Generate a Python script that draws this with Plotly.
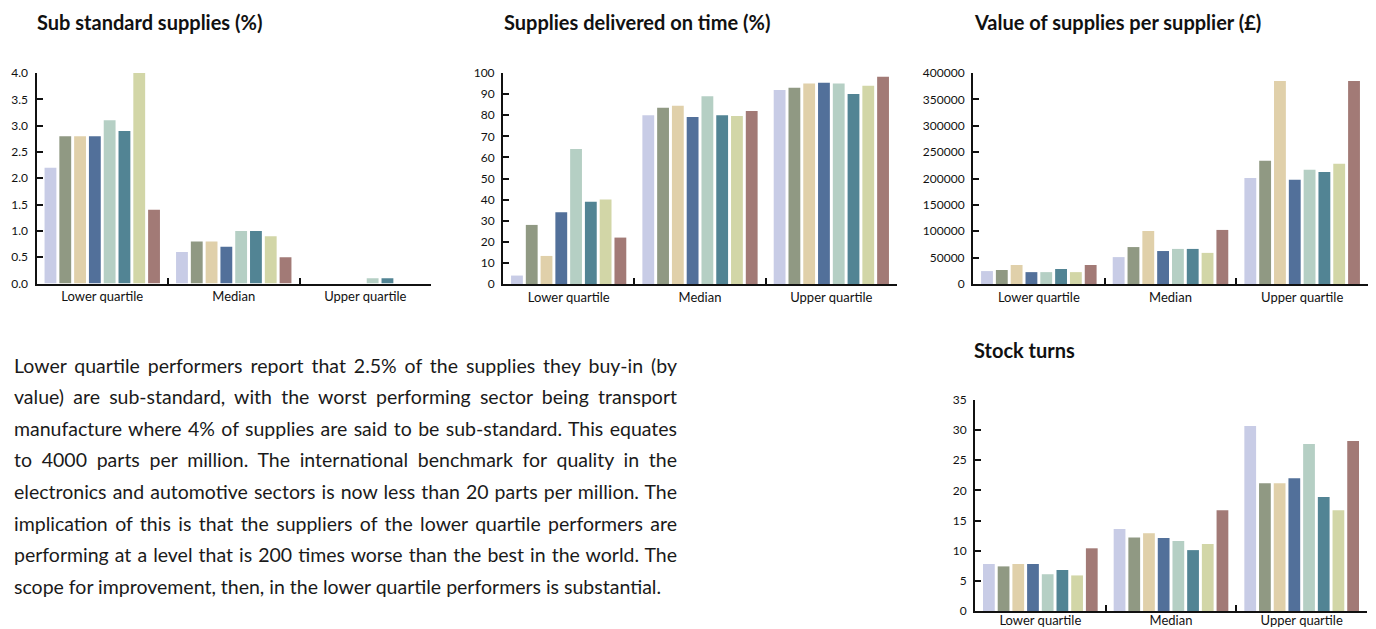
import json
import plotly.graph_objects as go

W, H = 1376, 629

categories = ["Lower quartile", "Median", "Upper quartile"]
sector_names = ["Sector 1", "Sector 2", "Sector 3", "Sector 4",
                "Sector 5", "Sector 6", "Sector 7", "Sector 8"]
sector_colors = ["#C8CCE6", "#909983", "#E0D0AA", "#52709A",
                 "#B5CFC4", "#528494", "#D2D6A7", "#A27A76"]

# Sub standard supplies (%), one list per quartile, one value per sector
sub_std_lower = [2.2, 2.8, 2.8, 2.8, 3.1, 2.9, 4.0, 1.4]
sub_std_median = [0.6, 0.8, 0.8, 0.7, 1.0, 1.0, 0.9, 0.5]
sub_std_upper = [0, 0, 0, 0, 0.1, 0.1, 0, 0]

# Supplies delivered on time (%)
on_time_lower = [4, 28, 13.3, 34, 64, 39, 40, 22]
on_time_median = [80, 83.5, 84.5, 79.2, 89, 80, 79.6, 82]
on_time_upper = [92, 93, 95, 95.4, 95, 90, 94, 98.2]

# Value of supplies per supplier (GBP)
value_lower = [24500, 26500, 36000, 22500, 22500, 28500, 22500, 36000]
value_median = [51000, 70000, 100500, 62500, 66500, 66500, 59000, 102500]
value_upper = [201000, 233500, 385000, 197500, 216500, 212500, 228000, 385000]

# Stock turns
stock_lower = [7.8, 7.4, 7.8, 7.8, 6.1, 6.8, 5.9, 10.4]
stock_median = [13.6, 12.2, 12.9, 12.1, 11.6, 10.1, 11.1, 16.7]
stock_upper = [30.7, 21.2, 21.2, 22.0, 27.7, 18.9, 16.7, 28.2]

paragraph_lines = [
    "Lower quartile performers report that 2.5% of the supplies they buy-in (by",
    "value) are sub-standard, with the worst performing sector being transport",
    "manufacture where 4% of supplies are said to be sub-standard. This equates",
    "to 4000 parts per million. The international benchmark for quality in the",
    "electronics and automotive sectors is now less than 20 parts per million. The",
    "implication of this is that the suppliers of the lower quartile performers are",
    "performing at a level that is 200 times worse than the best in the world. The",
    "scope for improvement, then, in the lower quartile performers is substantial.",
]

FONT = "Lato"

# (title, rows, y max, y step, tick format, x px [left, right], y px [zero, top],
#  title px, category label standoff)
panels = [
    ("Sub standard supplies (%)", (sub_std_lower, sub_std_median, sub_std_upper),
     4, 0.5, ".1f", (36.5, 431), (283.5, 73), (35, 22), 0),
    ("Supplies delivered on time (%)", (on_time_lower, on_time_median, on_time_upper),
     100, 10, "d", (503, 897), (284, 73), (502, 22), 0),
    ("Value of supplies per supplier (£)", (value_lower, value_median, value_upper),
     400000, 50000, "d", (973, 1368), (284, 73), (972, 22), 0),
    ("Stock turns", (stock_lower, stock_median, stock_upper),
     35, 5, "d", (975, 1367), (611, 400), (972, 350), -4),
]

fig = go.Figure()
annotations = []

for p, (title, rows, ymax, dtick, fmt, xpx, ypx, tpx, xstand) in enumerate(panels, start=1):
    xa = "x" if p == 1 else f"x{p}"
    ya = "y" if p == 1 else f"y{p}"
    for s in range(len(sector_names)):
        fig.add_trace(go.Bar(
            x=categories,
            y=[row[s] for row in rows],
            name=sector_names[s],
            marker=dict(color=sector_colors[s], line=dict(width=0)),
            xaxis=xa, yaxis=ya,
            showlegend=False,
            offsetgroup=str(s),
        ))
    sx = "" if p == 1 else str(p)
    fig.update_layout({
        f"xaxis{sx}": dict(
            domain=[xpx[0] / W, xpx[1] / W],
            anchor=ya,
            showline=True, linecolor="#111", linewidth=2,
            ticks="inside", tickson="boundaries", ticklen=6,
            tickwidth=2, tickcolor="#111",
            showgrid=False, zeroline=False,
            tickfont=dict(family=FONT, size=13, color="#111"),
            ticklabelstandoff=xstand,
            automargin=False,
            fixedrange=True,
        ),
        f"yaxis{sx}": dict(
            domain=[(H - ypx[0]) / H, (H - ypx[1]) / H],
            anchor=xa,
            range=[0, ymax],
            dtick=dtick, tick0=0, tickformat=fmt,
            showline=True, linecolor="#111", linewidth=2,
            ticks="inside", ticklen=6, tickwidth=2, tickcolor="#111",
            showgrid=False, zeroline=False,
            tickfont=dict(family=FONT, size=12, color="#111"),
            ticklabelstandoff=4,
            automargin=False,
            fixedrange=True,
        ),
    })
    annotations.append(dict(
        text=f"<b>{title}</b>", xref="paper", yref="paper",
        x=tpx[0] / W, y=(H - tpx[1]) / H,
        xanchor="left", yanchor="middle", align="left", showarrow=False,
        font=dict(family=FONT, size=20, color="#111"),
    ))

# Body text, one annotation per line
line_top, line_step = 365, 31.6
for i, line in enumerate(paragraph_lines):
    annotations.append(dict(
        text=line, xref="paper", yref="paper",
        x=12 / W, y=(H - (line_top + i * line_step)) / H,
        xanchor="left", yanchor="middle", align="left", showarrow=False,
        font=dict(family=FONT, size=19.5, color="#1a1a1a"),
    ))

fig.update_layout(
    width=W, height=H,
    autosize=False,
    margin=dict(l=0, r=0, t=0, b=0, pad=0, autoexpand=False),
    paper_bgcolor="white", plot_bgcolor="white",
    barmode="group", bargap=0.1, bargroupgap=0.2,
    annotations=annotations,
    font=dict(family=FONT),
)

# Justify the paragraph lines (all but the last) to a common right edge
justify_lines = json.dumps(paragraph_lines[:-1])
justify_js = """
var gd = document.getElementById('{plot_id}');
var lines = %s;
var target = %f;
function justify() {
  gd.querySelectorAll('text.annotation-text').forEach(function (t) {
    if (lines.indexOf(t.textContent) < 0) return;
    t.style.wordSpacing = '0px';
    var len = t.getComputedTextLength();
    var gaps = t.textContent.split(' ').length - 1;
    if (gaps > 0 && len < target) {
      t.style.wordSpacing = ((target - len) / gaps) + 'px';
    }
  });
}
justify();
gd.on('plotly_afterplot', justify);
""" % (justify_lines, 675 - 12)

fig.write_html("out.html", config={"displayModeBar": False}, post_script=justify_js)
